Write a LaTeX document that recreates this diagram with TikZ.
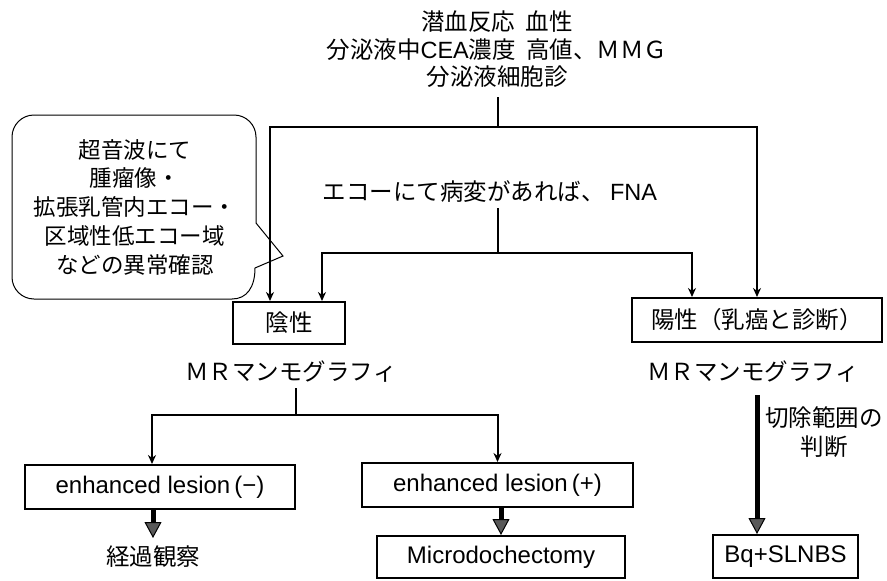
\documentclass[tikz,border=0pt]{standalone}
\usepackage{fontspec}
\setmainfont{Liberation Sans}
\newfontfamily\jp{Noto Sans CJK JP}
\usetikzlibrary{arrows.meta}
\tikzset{
  conn/.style={line width=2pt},
  arr/.style={conn, -{Stealth[length=9pt,width=8pt]}},
  fat/.style={line width=5pt, -{Triangle[length=16pt,width=17pt,fill=black!65,line width=1pt]}},
  bubble/.style={line width=1pt},
  boxed/.style={draw, line width=2pt, inner sep=0pt, anchor=center},
  jptext/.style={font=\jp\fontsize{23.5}{27.5}\selectfont, align=center},
  lat/.style={font=\fontsize{24}{28}\selectfont},
}
\begin{document}
\begin{tikzpicture}[x=1pt,y=-1pt]
\useasboundingbox (0,0) rectangle (887,581);
% texts
\node[jptext] (top) at (497,49.5) {潜血反応\ \ 血性\\分泌液中{\rmfamily CEA}濃度\ \ 高値、ＭＭＧ\\分泌液細胞診};
\node[jptext] (fna) at (490,192) {エコーにて病変があれば、 {\rmfamily FNA}};
\node[jptext, font=\jp\fontsize{22.5}{28.75}\selectfont] (bub) at (135,207) {超音波にて\\腫瘤像・\\拡張乳管内エコー・\\区域性低エコー域\\などの異常確認};
% boxes
\node[boxed, jptext, minimum width=112pt, minimum height=42pt] (neg) at (289,323) {陰性};
\node[boxed, jptext, minimum width=250pt, minimum height=44pt] (pos) at (757,320) {陽性（乳癌と診断）};
\node[jptext] (mrL) at (291,372) {ＭＲマンモグラフィ};
\node[jptext] (mrR) at (753,372) {ＭＲマンモグラフィ};
\node[boxed, lat, minimum width=270pt, minimum height=44pt] (enm) at (160,487) {enhanced lesion\,(−)};
\node[boxed, lat, minimum width=271pt, minimum height=44pt] (enp) at (497.5,485) {enhanced lesion\,(+)};
\node[jptext] (obs) at (153,557) {経過観察};
\node[boxed, lat, minimum width=248pt, minimum height=42pt] (micro) at (501,557) {Microdochectomy};
\node[boxed, lat, minimum width=145pt, minimum height=43pt] (bq) at (785.5,556.5) {Bq+SLNBS};
\node[jptext, font=\jp\fontsize{23.5}{29}\selectfont] (cut) at (824,432) {切除範囲の\\判断};
% callout bubble
\draw[bubble, rounded corners=22pt] (256,223) -- (256,115) -- (12,115) -- (12,299) -- (232,299);
\draw[bubble] (232,299) .. controls (247,299) and (255,287) .. (255,268) -- (283,256) -- (256,223);
% connectors
\coordinate (t1) at (498,97);
\coordinate (t2) at (498,127);
\draw[conn] (t1) -- (t2);
\draw[arr] (t2) -| ([xshift=-19pt]neg.north);
\draw[arr] (t2) -| (pos.north);
\coordinate (f1) at (498,208);
\coordinate (f2) at (498,253);
\draw[conn] (f1) -- (f2);
\draw[arr] (f2) -| ([xshift=33pt]neg.north);
\draw[arr] (f2) -| ([xshift=-65pt]pos.north);
\coordinate (m1) at (296,388);
\coordinate (m2) at (296,415);
\draw[conn] (m1) -- (m2);
\draw[arr] (m2) -| ([xshift=-8pt]enm.north);
\draw[arr] (m2) -| (enp.north);
\coordinate (obsIn) at (153,538);
\draw[fat] (enm.south -| obsIn) -- (obsIn);
\draw[fat] (enp.south -| micro.north) -- (micro.north);
\coordinate (r1) at (757,395);
\draw[fat] (r1) -- (r1 |- bq.north);
\end{tikzpicture}
\end{document}
